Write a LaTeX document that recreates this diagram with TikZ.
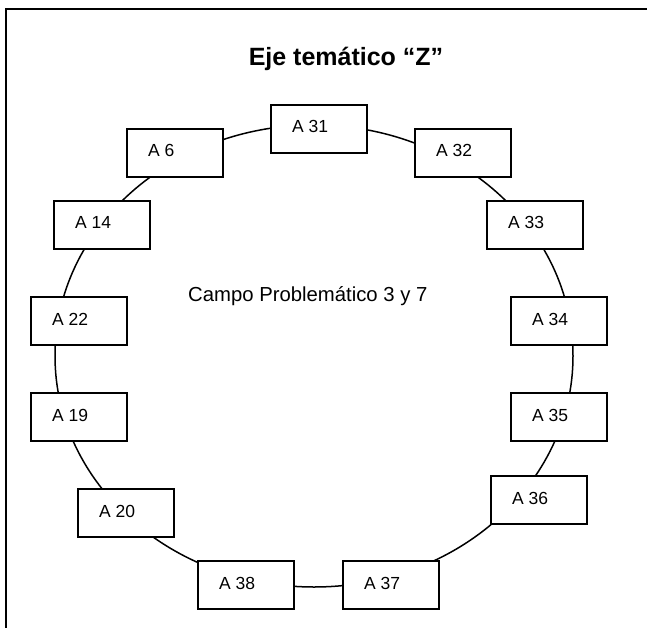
\documentclass[tikz,border=0pt]{standalone}
\usepackage{fontspec}
\setmainfont{Liberation Sans}
\usetikzlibrary{shapes.geometric}
\begin{document}
\begin{tikzpicture}[x=1pt,y=-1pt,
  abox/.style={draw, line width=2pt, fill=white, minimum width=96pt, minimum height=48pt, inner sep=0pt},
  alabel/.style={anchor=base west, inner sep=0pt, font=\fontsize{17.5}{20}\selectfont}]
\useasboundingbox (0,0) rectangle (647,628);
\draw[line width=2pt] (6,628) -- (6,9) -- (647,9);
\node[ellipse, draw, line width=1.5pt, minimum width=518pt, minimum height=462pt, inner sep=0pt] (ring) at (314,356) {};
\foreach \n/\l/\t in {31/271/105, 6/127/129, 32/415/129, 14/54/201, 33/487/201,
  22/31/297, 34/511/297, 19/31/393, 35/511/393, 20/78/489, 36/491/476,
  38/198/561, 37/343/561} {
  \node[abox] (b\n) at (\l+48,\t+24) {};
  \node[alabel] (t\n) at (\l+21,\t+28) {A \n};
}
\node[anchor=base, inner sep=0pt, font=\bfseries\fontsize{25}{30}\selectfont] (title) at (346,66) {Eje temático “Z”};
\node[anchor=base west, inner sep=0pt, font=\fontsize{20.3}{24}\selectfont] (campo) at (188,301) {Campo Problemático 3 y 7};
\end{tikzpicture}
\end{document}
